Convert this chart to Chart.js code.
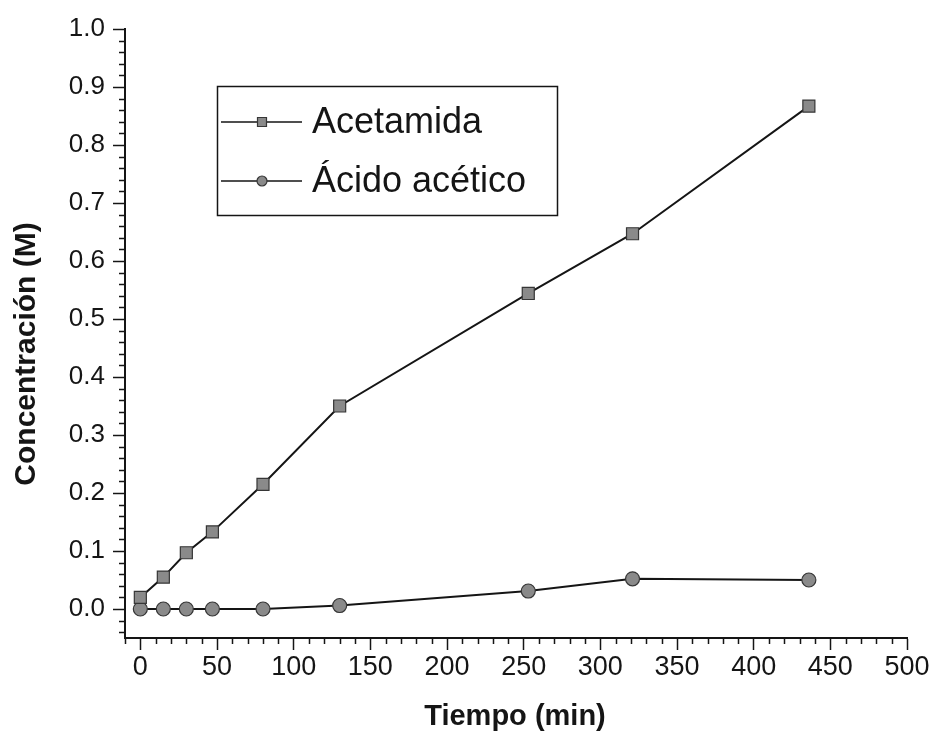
<!DOCTYPE html>
<html>
<head>
<meta charset="utf-8">
<style>
  html, body { margin: 0; padding: 0; background: #ffffff; }
  canvas { display: block; }
</style>
<script src="https://cdn.jsdelivr.net/npm/chart.js@4/dist/chart.umd.min.js"></script>
</head>
<body>
<canvas id="chart" width="934" height="732"></canvas>
<script>
// Sampling times (min)
const tiempo = [0, 15, 30, 47, 80, 130, 253, 321, 436];
// Concentrations (M)
const acetamida = [0.020, 0.055, 0.097, 0.133, 0.215, 0.350, 0.544, 0.647, 0.867];
const acidoAcetico = [0.000, 0.000, 0.000, 0.000, 0.000, 0.006, 0.031, 0.052, 0.050];

const seriesNames = ['Acetamida', 'Ácido acético'];
const xTickValues = [0, 50, 100, 150, 200, 250, 300, 350, 400, 450, 500];
const yTickValues = [0.0, 0.1, 0.2, 0.3, 0.4, 0.5, 0.6, 0.7, 0.8, 0.9, 1.0];
const xTitle = 'Tiempo (min)';
const yTitle = 'Concentración (M)';

const INK = '#151515';
const FONT = '"Liberation Sans", Arial, Helvetica, sans-serif';

function toPoints(xs, ys) {
  return xs.map((x, i) => ({ x: x, y: ys[i] }));
}

// Short minor ticks between the labelled ones, pointing outward
const minorTicks = {
  id: 'minorTicks',
  afterDraw(chart) {
    const { ctx, chartArea } = chart;
    const xs = chart.scales.x, ys = chart.scales.y;
    ctx.save();
    ctx.strokeStyle = INK;
    ctx.lineWidth = 1.5;
    ctx.beginPath();
    for (let v = xs.min; v <= xs.max + 1e-9; v += 10) {
      if (Math.abs(v % 50) < 1e-6) continue;
      const px = Math.round(xs.getPixelForValue(v)) + 0.5;
      ctx.moveTo(px, chartArea.bottom);
      ctx.lineTo(px, chartArea.bottom + 6);
    }
    for (let k = -2; k <= 50; k++) {
      if (k % 5 === 0) continue;
      const v = k * 0.02;
      if (v < ys.min - 1e-9 || v > ys.max + 1e-9) continue;
      const py = Math.round(ys.getPixelForValue(v)) + 0.5;
      ctx.moveTo(chartArea.left, py);
      ctx.lineTo(chartArea.left - 6, py);
    }
    ctx.stroke();
    ctx.restore();
  }
};

// Axis titles
const axisTitles = {
  id: 'axisTitles',
  afterDraw(chart) {
    const { ctx } = chart;
    ctx.save();
    ctx.fillStyle = INK;
    ctx.textAlign = 'center';
    ctx.textBaseline = 'middle';
    ctx.font = 'bold 29px ' + FONT;
    ctx.fillText(xTitle, 515, 717);
    ctx.font = 'bold 30px ' + FONT;
    ctx.translate(27, 354);
    ctx.rotate(-Math.PI / 2);
    ctx.fillText(yTitle, 0, 0);
    ctx.restore();
  }
};

// Boxed legend inside the plot area
const boxLegend = {
  id: 'boxLegend',
  afterDraw(chart) {
    const { ctx } = chart;
    const box = { x: 217, y: 86, w: 340, h: 129 };
    ctx.save();
    ctx.strokeStyle = INK;
    ctx.lineWidth = 1.5;
    ctx.strokeRect(box.x + 0.5, box.y + 0.5, box.w, box.h);
    const rows = [122, 181];
    chart.data.datasets.forEach((ds, i) => {
      const y = rows[i];
      ctx.strokeStyle = INK;
      ctx.lineWidth = 1.6;
      ctx.beginPath();
      ctx.moveTo(221, y);
      ctx.lineTo(302, y);
      ctx.stroke();
      ctx.fillStyle = ds.pointBackgroundColor;
      ctx.strokeStyle = ds.pointBorderColor;
      ctx.lineWidth = 1.2;
      ctx.beginPath();
      if (ds.pointStyle === 'rect') {
        ctx.rect(257.5, y - 4.5, 9, 9);
      } else {
        ctx.arc(262, y, 5, 0, Math.PI * 2);
      }
      ctx.fill();
      ctx.stroke();
      ctx.fillStyle = INK;
      ctx.font = '36px ' + FONT;
      ctx.textAlign = 'left';
      ctx.textBaseline = 'alphabetic';
      ctx.fillText(ds.label, 312, y + 11);
    });
    ctx.restore();
  }
};

new Chart(document.getElementById('chart'), {
  type: 'line',
  data: {
    datasets: [
      {
        label: seriesNames[0],
        data: toPoints(tiempo, acetamida),
        borderColor: INK,
        borderWidth: 2,
        pointStyle: 'rect',
        pointRadius: 8.5,
        pointBackgroundColor: '#8a8a8a',
        pointBorderColor: '#363636',
        pointBorderWidth: 1.2,
        tension: 0
      },
      {
        label: seriesNames[1],
        data: toPoints(tiempo, acidoAcetico),
        borderColor: INK,
        borderWidth: 2,
        pointStyle: 'circle',
        pointRadius: 7,
        pointBackgroundColor: '#8a8a8a',
        pointBorderColor: '#363636',
        pointBorderWidth: 1.2,
        tension: 0
      }
    ]
  },
  options: {
    responsive: false,
    animation: false,
    events: [],
    layout: { padding: { left: 0, right: 27, top: 29, bottom: 0 } },
    plugins: {
      legend: { display: false },
      tooltip: { enabled: false },
      title: { display: false }
    },
    scales: {
      x: {
        type: 'linear',
        min: -10,
        max: 500,
        afterBuildTicks(scale) { scale.ticks = xTickValues.map(v => ({ value: v })); },
        afterFit(scale) { scale.height = 94; },
        ticks: {
          color: INK,
          font: { family: FONT, size: 27 },
          padding: 1,
          maxRotation: 0,
          autoSkip: false,
          callback: (v) => String(v)
        },
        grid: {
          drawOnChartArea: false,
          drawTicks: true,
          tickLength: 12,
          tickWidth: 1.5,
          tickColor: INK
        },
        border: { display: true, color: INK, width: 2 },
        title: { display: false }
      },
      y: {
        type: 'linear',
        min: -0.05,
        max: 1.0,
        afterBuildTicks(scale) { scale.ticks = yTickValues.map(v => ({ value: v })); },
        afterFit(scale) { scale.width = 125; },
        ticks: {
          color: INK,
          font: { family: FONT, size: 26 },
          padding: 8,
          autoSkip: false,
          callback: (v) => Number(v).toFixed(1)
        },
        grid: {
          drawOnChartArea: false,
          drawTicks: true,
          tickLength: 12,
          tickWidth: 1.5,
          tickColor: INK
        },
        border: { display: true, color: INK, width: 2 },
        title: { display: false }
      }
    }
  },
  plugins: [minorTicks, axisTitles, boxLegend]
});
</script>
</body>
</html>
